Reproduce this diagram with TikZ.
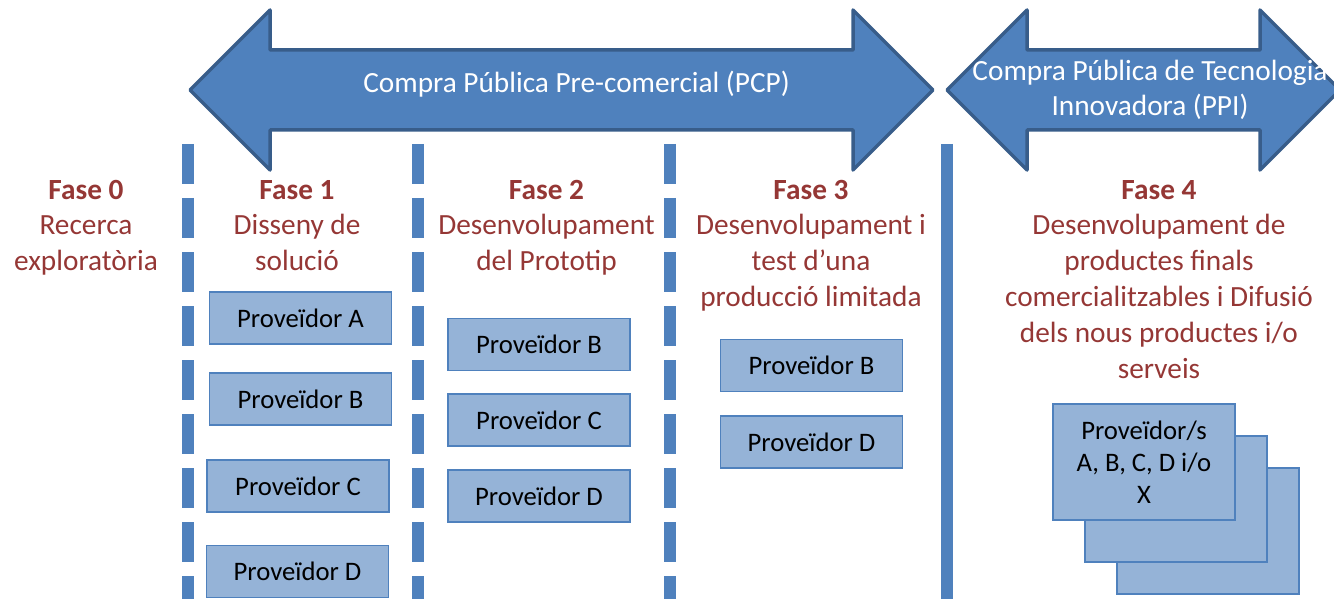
\documentclass[tikz,border=0pt]{standalone}
\usepackage{fontspec}
\setmainfont{Carlito}

\definecolor{accBlue}{HTML}{4F81BD}
\definecolor{arrowEdge}{HTML}{385D8A}
\definecolor{boxBlue}{HTML}{95B3D7}
\definecolor{faseRed}{HTML}{953735}

\begin{document}
\begin{tikzpicture}[%
      x=1pt, y=-1pt,
      fase/.style={text=faseRed, align=center, inner sep=0pt, anchor=base,
        font=\fontsize{29.3}{35.8}\selectfont},
      prov/.style={draw=accBlue, line width=1.5pt, fill=boxBlue, inner sep=0pt,
        minimum width=182pt, minimum height=52pt, align=center,
        font=\fontsize{26.7}{32}\selectfont},
      bigarrow/.style={draw=arrowEdge, fill=accBlue, line width=3.5pt, line join=round},
      arrowtext/.style={text=white, align=center, inner sep=0pt, anchor=base,
        font=\fontsize{29.3}{35}\selectfont},
      sep/.style={draw=accBlue, line width=12pt},
      ]
      \useasboundingbox (0,0) rectangle (1334,599);
      \clip (0,0) rectangle (1334,599);

      % phase separators
      \foreach \xs in {188,418,670}
        \draw [sep, dash pattern=on 40pt off 14pt] (\xs,144) -- (\xs,599);
      \draw [sep] (947,144) -- (947,599);

      % PCP and PPI arrows
      \draw [bigarrow] (190,90) -- (270,10) -- (270,50) -- (853,50) -- (853,10)
        -- (933,90) -- (853,170) -- (853,130) -- (270,130) -- (270,170) -- cycle;
      \node [arrowtext] (pcp) at (576.5,93) {Compra Pública Pre-comercial (PCP)};

      \draw [bigarrow] (947,90) -- (1027,10) -- (1027,50) -- (1260,50) -- (1260,10)
        -- (1340,90) -- (1260,170) -- (1260,130) -- (1027,130) -- (1027,170) -- cycle;
      \node [arrowtext] (ppi) at (1150,116) {Compra Pública de Tecnologia\\Innovadora (PPI)};

      % phase titles (base = last line)
      \node [fase] (fase0) at (86,270.6) {\textbf{Fase 0}\\Recerca\\exploratòria};
      \node [fase] (fase1) at (297,270.6) {\textbf{Fase 1}\\Disseny de\\solució};
      \node [fase] (fase2) at (546.5,270.6) {\textbf{Fase 2}\\Desenvolupament\\del Prototip};
      \node [fase] (fase3) at (811,306.4) {\textbf{Fase 3}\\Desenvolupament i\\test d’una\\producció limitada};
      \node [fase] (fase4) at (1159,378) {\textbf{Fase 4}\\Desenvolupament de\\productes finals\\comercialitzables i Difusió\\dels nous productes i/o\\serveis};

      % providers
      \node [prov] (p1a) at (300.5,318) {Proveïdor A};
      \node [prov] (p1b) at (300.5,399) {Proveïdor B};
      \node [prov] (p1c) at (298,486) {Proveïdor C};
      \node [prov] (p1d) at (297.5,571.5) {Proveïdor D};

      \node [prov] (p2b) at (539,344.5) {Proveïdor B};
      \node [prov] (p2c) at (539,420) {Proveïdor C};
      \node [prov] (p2d) at (539,496) {Proveïdor D};

      \node [prov] (p3b) at (811.5,365.5) {Proveïdor B};
      \node [prov] (p3d) at (811.5,442) {Proveïdor D};

      \node [prov, minimum height=126pt] (p4c) at (1208,531) {};
      \node [prov, minimum height=126pt] (p4b) at (1176,499) {};
      \node [prov, minimum height=116pt] (p4a) at (1144,462) {Proveïdor/s\\A, B, C, D i/o\\X};
      \end{tikzpicture}
\end{document}
